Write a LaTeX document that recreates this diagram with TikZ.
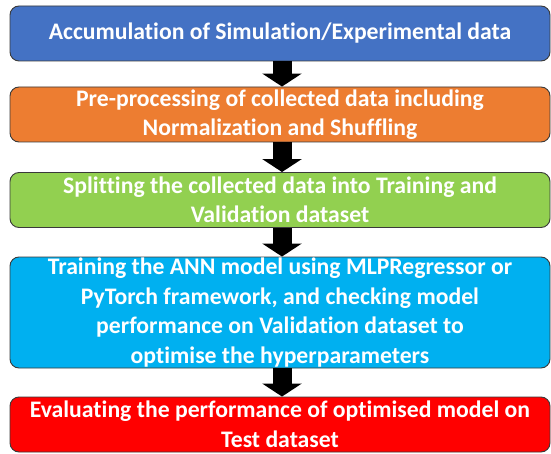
\documentclass[tikz,border=0pt]{standalone}
\usepackage{fontspec}
\setmainfont[RawFeature={-liga;-clig;-calt}]{Carlito}
\usetikzlibrary{arrows.meta}
\definecolor{bblue}{HTML}{4472C4}
\definecolor{oorange}{HTML}{ED7D31}
\definecolor{ggreen}{HTML}{92D050}
\definecolor{ccyan}{HTML}{00B0F0}
\definecolor{rred}{HTML}{FF0000}
\definecolor{bborder}{HTML}{3A3A3A}

\begin{document}
\begin{tikzpicture}[x=1pt,y=1pt,
  stage/.style={draw=bborder, line width=0.9pt, rounded corners=9pt,
    minimum width=540pt, minimum height=55pt, inner sep=0pt, align=center,
    text=white, font=\fontsize{23.7}{29.5}\selectfont\bfseries},
  flow/.style={line width=19pt, -{Triangle[width=39pt,length=13pt]}}]
\useasboundingbox (0,0) rectangle (551,453);

\node[stage, fill=bblue] (acc) at (280,419.5) {Accumulation of Simulation/Experimental data};
\node[stage, fill=oorange] (pre) at (280,338.5) {Pre-processing of collected data including\\Normalization and Shuffling};
\node[stage, fill=ggreen] (split) at (280,253) {Splitting the collected data into Training and\\Validation dataset};
\node[stage, fill=ccyan, minimum height=111pt] (train) at (280,140.5) {Training the ANN model using MLPRegressor or\\PyTorch framework, and checking model\\performance on Validation dataset to\\optimise the hyperparameters};
\node[stage, fill=rred] (eval) at (280,28.5) {Evaluating the performance of optimised model on\\Test dataset};

\draw[flow] ([xshift=2pt]acc.south) -- ([xshift=2pt]pre.north);
\draw[flow] ([xshift=2pt]pre.south) -- ([xshift=2pt]split.north);
\draw[flow] ([xshift=2pt]split.south) -- ([xshift=2pt]train.north);
\draw[flow] ([xshift=2pt]train.south) -- ([xshift=2pt]eval.north);
\end{tikzpicture}
\end{document}
